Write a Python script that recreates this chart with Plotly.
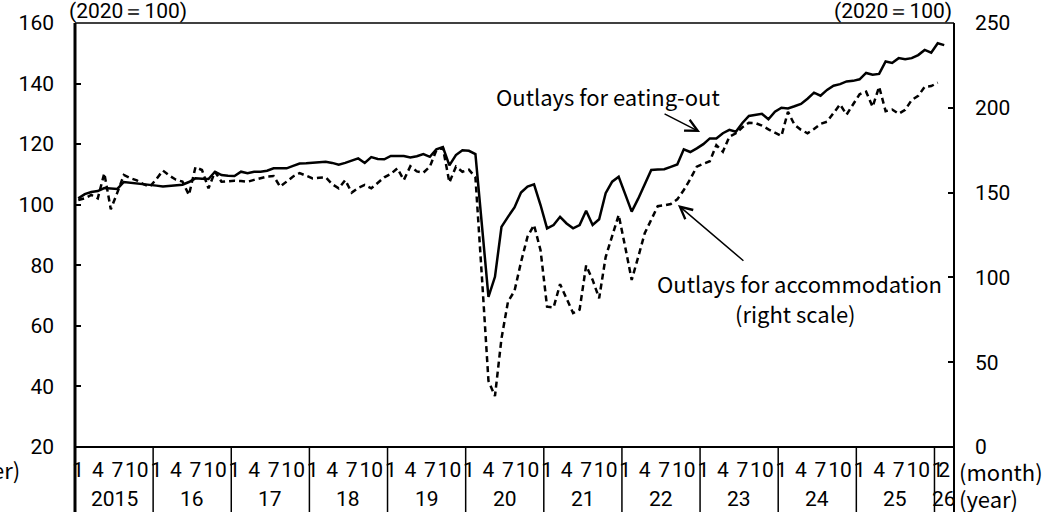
import plotly.graph_objects as go

TXT_FONT = "Noto Sans CJK JP, Noto Sans, sans-serif"
NUM_FONT = "Roboto, Noto Sans, sans-serif"
FS_TXT = 22
FS_NUM = 21

# ---------------- data ----------------
start_year = 2015
year_labels = ["2015", "16", "17", "18", "19", "20", "21", "22", "23", "24", "25", "26"]
month_tick_months = [1, 4, 7, 10]

# Outlays for eating-out (left scale, 2020=100), Jan 2015 - Feb 2026
eating_out = [
    102.1, 103.5, 104.2, 104.5, 105.5, 105.3, 105.2, 107.5, 107.3, 107.0, 106.8, 106.5,  # 2015
    106.3, 106.0, 106.2, 106.5, 106.6, 107.5, 108.7, 108.6, 108.5, 110.9, 109.8, 109.6,  # 2016
    109.5, 110.9, 110.4, 110.9, 110.9, 111.2, 112.0, 112.0, 112.0, 112.8, 113.6, 113.7,  # 2017
    113.9, 114.0, 114.2, 113.8, 113.2, 113.8, 114.5, 115.3, 113.8, 115.7, 115.1, 115.0,  # 2018
    116.1, 116.1, 116.1, 115.6, 116.0, 116.7, 115.8, 118.3, 119.0, 113.0, 116.4, 118.0,  # 2019
    117.8, 116.7, 94.0, 69.6, 76.2, 92.7, 96.0, 99.1, 104.0, 106.0, 106.7, 99.9,  # 2020
    92.2, 93.3, 96.0, 93.8, 92.2, 93.3, 98.0, 93.3, 95.2, 103.8, 107.6, 109.2,  # 2021
    103.5, 97.7, 102.0, 106.9, 111.5, 111.6, 111.7, 112.5, 113.3, 118.3, 117.4, 118.6,  # 2022
    120.0, 121.9, 121.9, 123.6, 124.7, 124.1, 127.0, 129.3, 129.6, 130.0, 128.2, 130.7,  # 2023
    132.0, 131.8, 132.5, 133.3, 135.0, 137.0, 136.0, 137.9, 139.3, 139.8, 140.7, 140.9,  # 2024
    141.4, 143.5, 142.9, 143.2, 147.3, 146.8, 148.4, 148.0, 148.4, 149.4, 151.1, 150.2,  # 2025
    153.3, 152.7,  # 2026
]

# Outlays for accommodation (right scale, 2020=100), Jan 2015 - Jan 2026
accommodation = [
    145.6, 146.6, 148.6, 146.6, 161.4, 140.2, 150.0, 160.4, 158.5, 157.2, 155.0, 153.5,  # 2015
    158.0, 163.0, 160.0, 157.6, 156.5, 148.6, 165.0, 163.3, 152.5, 162.3, 156.4, 156.7,  # 2016
    157.0, 156.8, 156.4, 157.5, 158.5, 159.5, 159.8, 153.5, 156.5, 159.5, 161.5, 160.0,  # 2017
    158.4, 158.8, 159.0, 155.0, 152.5, 157.4, 150.0, 152.8, 154.5, 152.5, 156.0, 159.0,  # 2018
    161.0, 164.3, 157.4, 165.5, 162.5, 161.7, 165.3, 175.0, 176.5, 156.0, 165.3, 162.3,  # 2019
    163.5, 159.0, 100.0, 39.0, 30.0, 64.0, 85.7, 92.0, 109.0, 124.0, 130.9, 116.0,  # 2020
    82.7, 82.2, 96.0, 88.0, 79.0, 81.0, 107.0, 98.5, 87.7, 112.0, 124.0, 136.8,  # 2021
    118.0, 98.5, 112.0, 126.0, 134.0, 142.0, 142.5, 143.3, 146.0, 151.5, 158.0, 165.3,  # 2022
    167.0, 168.5, 178.0, 174.1, 183.0, 185.0, 188.5, 191.2, 191.0, 189.5, 187.3, 185.5,  # 2023
    183.4, 197.7, 190.0, 187.0, 185.0, 187.5, 190.5, 191.8, 197.0, 202.0, 196.0, 201.7,  # 2024
    208.0, 209.5, 200.6, 212.4, 198.0, 199.0, 196.5, 198.8, 204.6, 207.0, 212.4, 212.8,  # 2025
    214.8, None,  # 2026
]

# ---------------- derived positions ----------------
n = len(eating_out)
x = list(range(n))
months = [(start_year + i // 12, i % 12 + 1) for i in x]
tickvals = [i for i, (yy, mm) in enumerate(months) if mm in month_tick_months or i == n - 1]
ticktext = [str(months[i][1]) for i in tickvals]
x_lo, x_hi = -0.5, n + 0.5

year_starts = [i for i, (yy, mm) in enumerate(months) if mm == 1]
bounds = [i - 0.5 for i in year_starts] + [x_hi]

W, H = 1062, 512
L, R, T, B = 75, 108, 23, 65
PW, PH = W - L - R, H - T - B


def px_x(p):
    return (p - L) / PW


def px_y(p):
    return (H - B - p) / PH


fig = go.Figure()
fig.add_trace(go.Scatter(x=x, y=eating_out, mode="lines", yaxis="y",
                         line=dict(color="black", width=2.5), name="Outlays for eating-out"))
fig.add_trace(go.Scatter(x=x, y=accommodation, mode="lines", yaxis="y2",
                         line=dict(color="black", width=2.5, dash="6px,4px"),
                         name="Outlays for accommodation"))

shapes = []
black = "black"
bottom_y = px_y(H + 5)
# frame
shapes.append(dict(type="line", xref="paper", yref="paper", x0=0, x1=0, y0=1, y1=bottom_y,
                   line=dict(color=black, width=3)))
shapes.append(dict(type="line", xref="paper", yref="paper", x0=1, x1=1, y0=1, y1=bottom_y,
                   line=dict(color=black, width=2)))
shapes.append(dict(type="line", xref="paper", yref="paper", x0=0, x1=1, y0=1, y1=1,
                   line=dict(color=black, width=1.5)))
shapes.append(dict(type="line", xref="paper", yref="paper", x0=0, x1=1, y0=0, y1=0,
                   line=dict(color=black, width=2)))
# year separators
for b in bounds[1:-1]:
    shapes.append(dict(type="line", xref="x", yref="paper", x0=b, x1=b, y0=0, y1=bottom_y,
                       line=dict(color=black, width=1.5)))

numf = dict(family=NUM_FONT, size=FS_NUM, color=black)
txtf = dict(family=TXT_FONT, size=FS_TXT, color=black)
unitf = dict(family=NUM_FONT, size=21, color=black)

annotations = []
for k, lab in enumerate(year_labels):
    c = (bounds[k] + bounds[k + 1]) / 2
    annotations.append(dict(text=lab, x=c, xref="x", y=px_y(499), yref="paper",
                            showarrow=False, xanchor="center", yanchor="middle", font=numf))
annotations += [
    dict(text="(month)", x=px_x(957), y=px_y(471), xref="paper", yref="paper", showarrow=False,
         xanchor="left", yanchor="middle", font=txtf),
    dict(text="(year)", x=px_x(957), y=px_y(498), xref="paper", yref="paper", showarrow=False,
         xanchor="left", yanchor="middle", font=txtf),
    dict(text="er)", x=px_x(22), y=px_y(469), xref="paper", yref="paper", showarrow=False,
         xanchor="right", yanchor="middle", font=txtf),
    dict(text="(2020＝100)", x=px_x(67), y=px_y(11), xref="paper", yref="paper", showarrow=False,
         xanchor="left", yanchor="middle", font=unitf),
    dict(text="(2020＝100)", x=px_x(954), y=px_y(11), xref="paper", yref="paper", showarrow=False,
         xanchor="right", yanchor="middle", font=unitf),
    dict(text="Outlays for eating-out", x=px_x(608), y=px_y(96), xref="paper", yref="paper",
         showarrow=False, xanchor="center", yanchor="middle", font=txtf),
    dict(text="Outlays for accommodation", x=px_x(799), y=px_y(283), xref="paper", yref="paper",
         showarrow=False, xanchor="center", yanchor="middle", font=txtf),
    dict(text="(right scale)", x=px_x(795), y=px_y(313), xref="paper", yref="paper",
         showarrow=False, xanchor="center", yanchor="middle", font=txtf),
    # arrows
    dict(text="", x=95.5, y=124.0, xref="x", yref="y", showarrow=True, arrowhead=5,
         arrowsize=1.6, arrowwidth=1.5, arrowcolor=black, ax=-37, ay=-19, standoff=0),
    dict(text="", x=92.1, y=99.9, xref="x", yref="y", showarrow=True, arrowhead=5,
         arrowsize=1.6, arrowwidth=1.5, arrowcolor=black, ax=67, ay=57, standoff=0),
]

fig.update_layout(
    width=W, height=H, autosize=False,
    margin=dict(l=L, r=R, t=T, b=B, pad=0, autoexpand=False),
    paper_bgcolor="white", plot_bgcolor="white",
    showlegend=False,
    font=dict(family=NUM_FONT, size=FS_NUM, color=black),
    xaxis=dict(range=[x_lo, x_hi], tickmode="array", tickvals=tickvals, ticktext=ticktext,
               ticks="", showline=False, showgrid=False, zeroline=False, automargin=False,
               ticklabelstandoff=8, tickangle=0, tickfont=numf),
    yaxis=dict(range=[20, 160], dtick=20, tick0=20, ticks="inside", ticklen=6, tickwidth=2,
               tickcolor=black, showline=False, showgrid=False, zeroline=False, automargin=False,
               ticklabelstandoff=20, tickfont=numf),
    yaxis2=dict(range=[0, 250], dtick=50, tick0=0, ticks="inside", ticklen=6, tickwidth=2,
                tickcolor=black, overlaying="y", side="right", showline=False, showgrid=False,
                zeroline=False, automargin=False, ticklabelstandoff=20, tickfont=numf),
    shapes=shapes,
    annotations=annotations,
)

fig.write_html(
    "out.html",
    config={"displayModeBar": False},
    post_script="document.body.style.margin='0';document.body.style.overflow='hidden';",
)
